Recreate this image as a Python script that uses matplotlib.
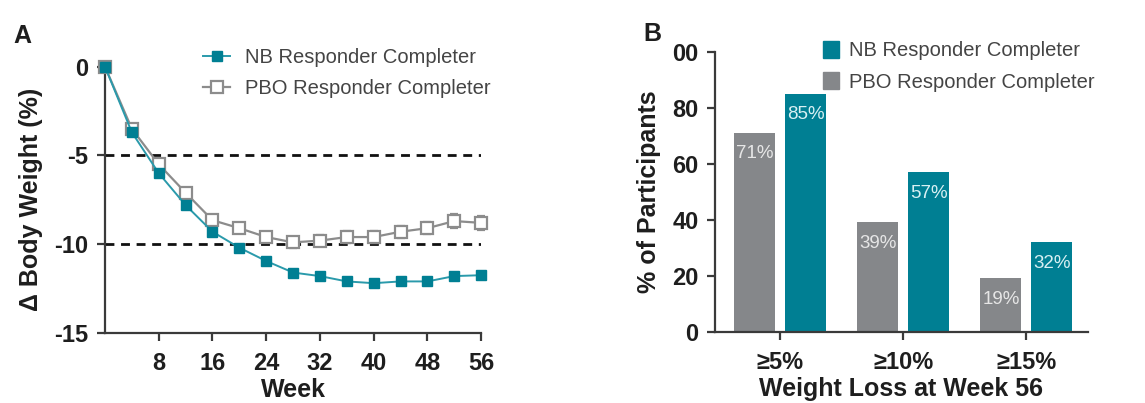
import numpy as np
import matplotlib
matplotlib.use("Agg")
import matplotlib.pyplot as plt
from matplotlib.lines import Line2D
from matplotlib.patches import Patch

plt.rcParams['font.family'] = ['Liberation Sans', 'DejaVu Sans']

# --- panel A data: % change in body weight by week
weeks = [0, 4, 8, 12, 16, 20, 24, 28, 32, 36, 40, 44, 48, 52, 56]
nb_change = [0, -3.7, -6.0, -7.8, -9.3, -10.2, -10.95, -11.6, -11.8, -12.1, -12.2, -12.1, -12.1, -11.8, -11.75]
pbo_change = [0, -3.5, -5.5, -7.1, -8.65, -9.1, -9.6, -9.9, -9.8, -9.6, -9.6, -9.3, -9.1, -8.7, -8.8]
pbo_err = [0, 0.15, 0.2, 0.2, 0.25, 0.25, 0.3, 0.3, 0.3, 0.35, 0.35, 0.35, 0.35, 0.4, 0.4]
week_ticks = [8, 16, 24, 32, 40, 48, 56]
change_ticks = [0, -5, -10, -15]
ref_lines = [-5, -10]

# --- panel B data: % participants reaching weight loss thresholds
thresholds = ['≥5%', '≥10%', '≥15%']
nb_pct = [85, 57, 32]
pbo_pct = [71, 39, 19]
pct_ticks = [0, 20, 40, 60, 80, 100]
pct_ticklabels = ['0', '20', '40', '60', '80', '00']  # the "1" is cut off in the source

TEAL = '#007f93'
TEAL_LINE = '#2a9aab'
GRAY = '#85878a'
AXC = '#3a3a3a'
TXT = '#1e1e1e'

fig = plt.figure(figsize=(11.45, 4.03), dpi=100)

def style_axes(ax):
    for s in ['top', 'right']:
        ax.spines[s].set_visible(False)
    for s in ['left', 'bottom']:
        ax.spines[s].set_color(AXC)
        ax.spines[s].set_linewidth(1.6)
    ax.tick_params(direction='out', length=6, width=1.6, color=AXC,
                   labelsize=17, labelcolor=TXT)
    ax.tick_params(axis='x', pad=8)
    ax.tick_params(axis='y', pad=6)
    for lab in ax.get_xticklabels() + ax.get_yticklabels():
        lab.set_fontweight('bold')

# ---------------- panel A ----------------
axA = fig.add_axes([0.0917, 0.174, 0.3285, 0.6605])
for y in ref_lines:
    axA.axhline(y, color='#111111', lw=2.0, ls=(0, (3.2, 2.4)), zorder=1)
axA.errorbar(weeks, pbo_change, yerr=pbo_err, color='#8c8c8c', lw=1.6,
             marker='s', ms=8, mfc='white', mec='#8c8c8c', mew=1.6,
             capsize=3, elinewidth=1.2, zorder=3, clip_on=False)
axA.plot(weeks, nb_change, color=TEAL_LINE, lw=1.4, marker='s', ms=7.5,
         mfc=TEAL, mec=TEAL, zorder=4, clip_on=False)
axA.set_xlim(0, 56)
axA.set_ylim(-15, 0)
axA.set_xticks(week_ticks)
axA.set_yticks(change_ticks)
axA.set_yticklabels([str(v) for v in change_ticks])
style_axes(axA)
axA.set_xlabel('Week', fontsize=18, fontweight='bold', color=TXT, labelpad=2)
axA.set_ylabel('Δ Body Weight (%)', fontsize=18, fontweight='bold', color=TXT, labelpad=8)

hA = [Line2D([], [], color=TEAL_LINE, lw=1.4, marker='s', ms=7.5, mfc=TEAL, mec=TEAL),
      Line2D([], [], color='#8c8c8c', lw=1.6, marker='s', ms=8, mfc='white', mec='#8c8c8c', mew=1.6)]
fig.legend(hA, ['NB Responder Completer', 'PBO Responder Completer'],
           loc='upper left', bbox_to_anchor=(203 / 1145, 1 - 48 / 403),
           frameon=False, fontsize=14.5, borderpad=0, borderaxespad=0,
           handlelength=1.35, handletextpad=0.75, labelspacing=0.6,
           labelcolor='#444444')

fig.text(13 / 1145, 1 - 36 / 403, 'A', fontsize=18, fontweight='bold', color=TXT, va='center')

# ---------------- panel B ----------------
axB = fig.add_axes([0.6245, 0.177, 0.3255, 0.695])
x = np.arange(len(thresholds))
w = 0.333
gap = 0.08
b_pbo = axB.bar(x - (w + gap) / 2, pbo_pct, width=w, color=GRAY, zorder=2)
b_nb = axB.bar(x + (w + gap) / 2, nb_pct, width=w, color=TEAL, zorder=2)
for bars, vals, col in [(b_pbo, pbo_pct, '#e6e6e6'), (b_nb, nb_pct, '#d8f0f3')]:
    for r, v in zip(bars, vals):
        axB.text(r.get_x() + r.get_width() / 2, v - 7.5, f'{v}%', ha='center',
                 va='center', fontsize=13.5, color=col, zorder=3)
axB.set_xlim(-0.53, 2.5)
axB.set_ylim(0, 100)
axB.set_xticks(x)
axB.set_xticklabels(thresholds)
axB.set_yticks(pct_ticks)
axB.set_yticklabels(pct_ticklabels)
style_axes(axB)
axB.set_xlabel('Weight Loss at Week 56', fontsize=18, fontweight='bold', color=TXT, labelpad=2)
axB.set_ylabel('% of Participants', fontsize=18, fontweight='bold', color=TXT, labelpad=8)

hB = [Patch(color=TEAL), Patch(color=GRAY)]
fig.legend(hB, ['NB Responder Completer', 'PBO Responder Completer'],
           loc='upper left', bbox_to_anchor=(823 / 1145, 1 - 41 / 403),
           frameon=False, fontsize=14.5, borderpad=0, borderaxespad=0,
           handlelength=0.8, handleheight=0.9, handletextpad=0.5, labelspacing=0.6,
           labelcolor='#444444')

fig.text(643 / 1145, 1 - 34 / 403, 'B', fontsize=18, fontweight='bold', color=TXT, va='center')

fig.savefig('out.png', dpi=100)
